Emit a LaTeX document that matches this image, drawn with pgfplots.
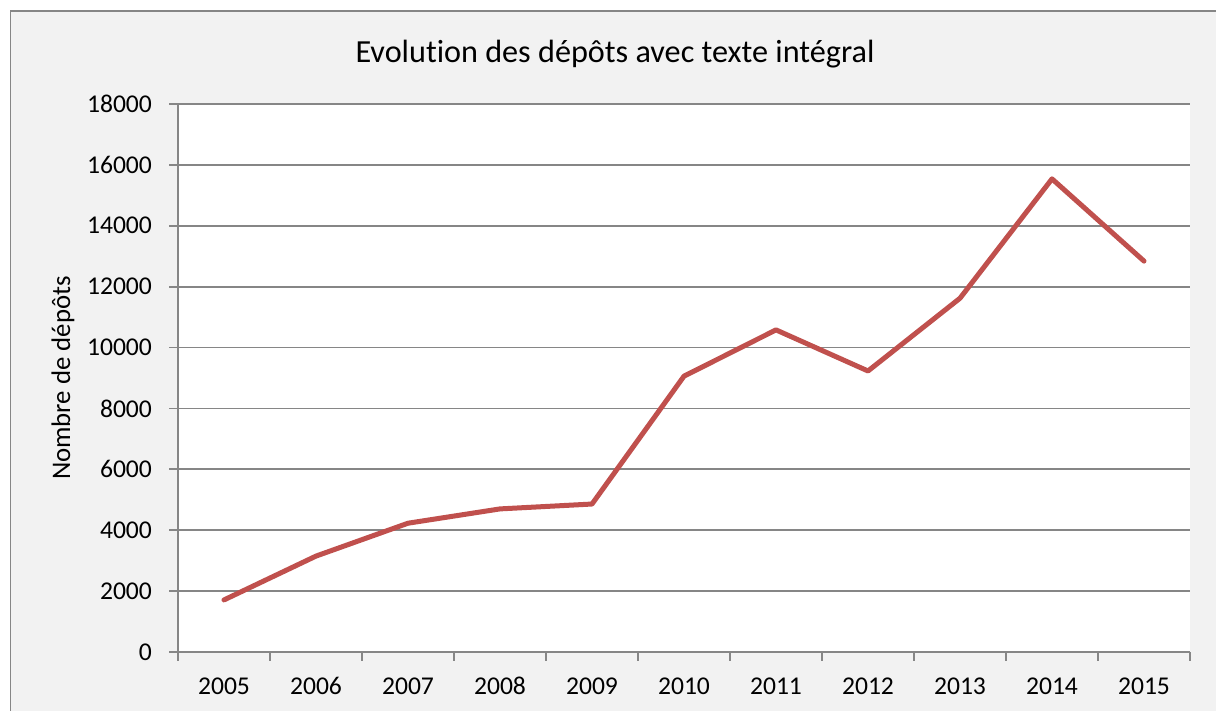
\documentclass[border=0pt]{standalone}
\usepackage{fontspec}
\setmainfont{Carlito}[Ligatures=NoCommon]
\usepackage{pgfplots}
\pgfplotsset{compat=1.18}
\definecolor{exred}{HTML}{C0504D}
\definecolor{exgrid}{HTML}{868686}
\definecolor{exbg}{HTML}{F2F2F2}
\begin{document}
\begin{tikzpicture}
\useasboundingbox (0,0) rectangle (608pt,355.5pt);
\begin{scope}
\clip (0,0) rectangle (608pt,355.5pt);
\fill[white] (0,0) rectangle (608pt,355.5pt);
\draw[exgrid, fill=exbg, line width=0.8pt] (5.2pt,-10pt) rectangle (640pt,350pt);
\end{scope}
\begin{axis}[
  at={(89pt,29.5pt)}, anchor=south west,
  scale only axis, width=506pt, height=274pt,
  xmin=-0.5, xmax=10.5, ymin=0, ymax=18000,
  axis background/.style={fill=white},
  axis x line=bottom, axis y line=left,
  axis line style={exgrid, line width=0.85pt, -},
  xtick={0,...,10},
  xticklabels={2005,2006,2007,2008,2009,2010,2011,2012,2013,2014,2015},
  major x tick style={draw=none},
  minor xtick={-0.5,0.5,...,10.5},
  minor x tick style={exgrid, line width=0.85pt},
  minor tick length=4.5pt,
  ytick={0,2000,...,18000},
  y tick style={exgrid, line width=0.85pt},
  major tick length=4.5pt,
  tick align=outside,
  ymajorgrids, grid style={exgrid, line width=0.85pt},
  scaled y ticks=false,
  /pgf/number format/assume math mode=true,
  yticklabel={\pgfmathprintnumber[fixed,1000 sep={}]{\tick}},
  tick label style={font=\fontsize{12.8}{15}\selectfont, black},
  xticklabel style={yshift=-4.5pt, text height=8.5pt, text depth=0pt},
  yticklabel style={xshift=-5pt},
  ylabel={Nombre de dépôts},
  every axis y label/.style={at={(axis description cs:0,0.5)}, anchor=center, rotate=90, yshift=57.5pt, font=\fontsize{13.4}{16}\selectfont},
  title={Evolution des dépôts avec texte intégral},
  every axis title/.style={at={(axis description cs:0.5,1)}, anchor=center, xshift=-34.5pt, yshift=25pt, font=\fontsize{16.1}{19}\selectfont},
  clip=false,
]
\addplot[exred, line width=2.5pt, line join=round, line cap=round] coordinates {
(0,1710) (1,3150) (2,4230) (3,4700) (4,4860) (5,9060) (6,10580) (7,9230) (8,11620) (9,15540) (10,12840)
};
\end{axis}
\end{tikzpicture}
\end{document}
